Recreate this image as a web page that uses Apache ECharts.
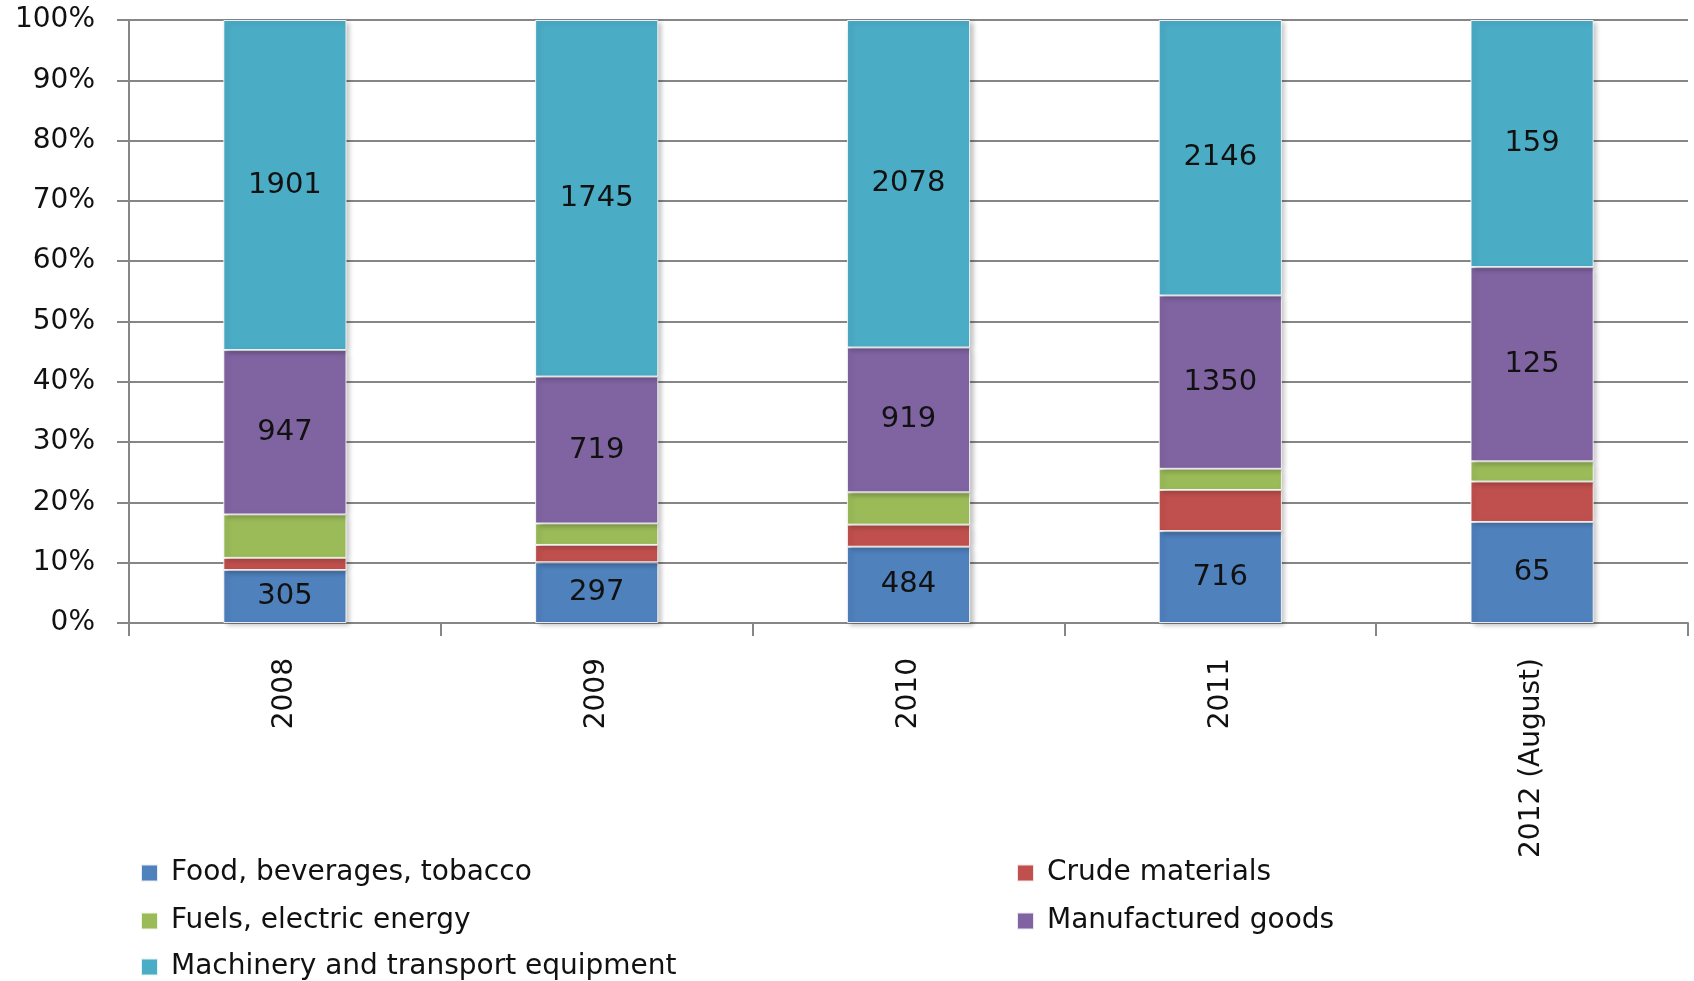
<!DOCTYPE html>
<html>
<head>
<meta charset="utf-8">
<title>Exports by product group</title>
<script src="https://cdn.jsdelivr.net/npm/echarts@6/dist/echarts.min.js"></script>
<style>
	html, body { margin: 0; padding: 0; background: #fff; }
	#bar-wrapper { width: 1694px; height: 981px; }
</style>
</head>
<body>
<div id="bar-wrapper"></div>
<script>
// categories
var years = ['2008', '2009', '2010', '2011', '2012 (August)'];
var yTicks = [0, 10, 20, 30, 40, 50, 60, 70, 80, 90, 100];

// raw values (crude & fuels are not labelled in the picture)
var food = [305, 297, 484, 716, 65];
var crude = [70, 85, 140, 320, 26];
var fuels = [250, 105, 205, 165, 13];
var manufactured = [947, 719, 919, 1350, 125];
var machinery = [1901, 1745, 2078, 2146, 159];

var names = ['Food, beverages, tobacco', 'Crude materials', 'Fuels, electric energy', 'Manufactured goods', 'Machinery and transport equipment'];
var colors = ['#4F81BD', '#C0504D', '#9BBB59', '#8064A2', '#4BACC6'];
var labelled = [true, false, false, true, true];

var groups = [food, crude, fuels, manufactured, machinery];

// totals per year, for the 100% stack
var totals = [];
for (var i = 0; i < years.length; i++) {
	var t = 0;
	for (var g = 0; g < groups.length; g++) {
		t += groups[g][i];
	}
	totals.push(t);
}

var series = [];
for (var g = 0; g < groups.length; g++) {
	(function (raw, idx) {
		var pct = [];
		for (var i = 0; i < raw.length; i++) {
			pct.push(raw[i] / totals[i] * 100);
		}
		series.push({
			name: names[idx],
			type: 'bar',
			stack: 'total',
			barWidth: '39.5%',
			data: pct,
			itemStyle: {
				color: colors[idx],
				borderColor: 'rgba(255,255,255,0.85)',
				borderWidth: 1,
				shadowColor: 'rgba(0,0,0,0.25)',
				shadowBlur: 5,
				shadowOffsetX: 3,
				shadowOffsetY: 2
			},
			label: {
				show: labelled[idx],
				position: 'inside',
				color: '#111',
				fontFamily: 'DejaVu Sans',
				fontSize: 29,
				formatter: function (p) {
					return raw[p.dataIndex];
				}
			}
		});
	})(groups[g], g);
}

// legend laid out in two columns like the original
var legendPos = [
	{ left: 140, top: 859 },
	{ left: 1016, top: 859 },
	{ left: 140, top: 907 },
	{ left: 1016, top: 907 },
	{ left: 140, top: 953 }
];
var legends = [];
for (var k = 0; k < names.length; k++) {
	legends.push({
		data: [names[k]],
		left: legendPos[k].left,
		top: legendPos[k].top,
		icon: 'rect',
		itemWidth: 17,
		itemHeight: 17,
		padding: 0,
		selectedMode: false,
		textStyle: {
			fontFamily: 'DejaVu Sans',
			fontSize: 28,
			color: '#111',
			padding: [0, 0, 0, 8]
		}
	});
}

var myChart = echarts.init(document.getElementById('bar-wrapper'));

var option = {
	animation: false,
	color: colors,
	legend: legends,
	grid: {
		left: 129,
		right: 6,
		top: 20,
		height: 603
	},
	xAxis: {
		type: 'category',
		data: years,
		axisLine: { lineStyle: { color: '#868686', width: 2 } },
		axisTick: { show: true, length: 13, lineStyle: { color: '#868686', width: 2 } },
		axisLabel: {
			rotate: 90,
			margin: 35,
			color: '#111',
			fontFamily: 'DejaVu Sans',
			fontSize: 28
		}
	},
	yAxis: {
		type: 'value',
		min: yTicks[0],
		max: yTicks[yTicks.length - 1],
		interval: 10,
		axisLine: { show: true, lineStyle: { color: '#868686', width: 2 } },
		axisTick: { show: true, length: 12, lineStyle: { color: '#868686', width: 2 } },
		splitLine: { lineStyle: { color: '#868686', width: 2 } },
		axisLabel: {
			margin: 34,
			color: '#111',
			fontFamily: 'DejaVu Sans',
			fontSize: 28,
			formatter: '{value}%'
		}
	},
	series: series
};

myChart.setOption(option);
</script>
</body>
</html>
